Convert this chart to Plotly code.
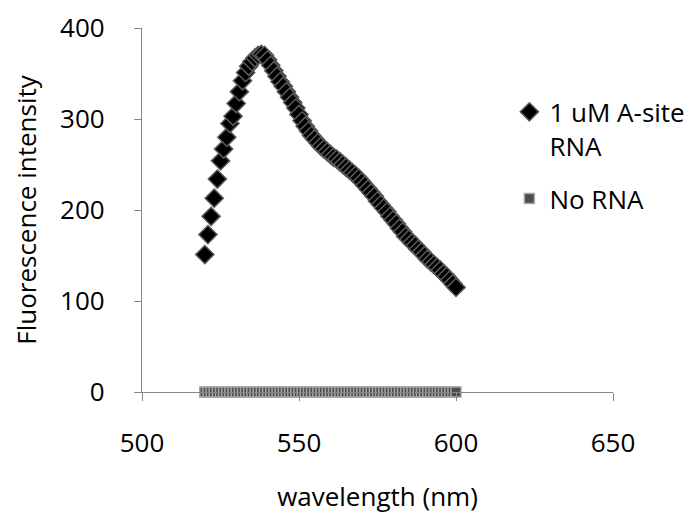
import plotly.graph_objects as go

wavelength = list(range(520, 601))
a_site_rna = [
    151, 173, 193, 213, 234, 254, 267, 280, 295, 303,   # 520-529
    317, 330, 342, 351, 358, 363, 367, 370, 371, 370,   # 530-539
    365, 359, 353, 347, 341, 336, 330, 324, 318, 312,   # 540-549
    305, 298, 292, 287, 282, 278, 274, 270, 267, 264,   # 550-559
    261, 258, 256, 253, 250, 247, 244, 241, 238, 235,   # 560-569
    231, 227, 223, 219, 215, 210, 206, 202, 198, 193,   # 570-579
    189, 185, 180, 176, 171, 168, 164, 161, 157, 154,   # 580-589
    150, 146, 143, 140, 137, 134, 130, 127, 123, 119,   # 590-599
    115,                                                # 600
]
no_rna = [0] * len(wavelength)

x_ticks = [500, 550, 600, 650]
y_ticks = [0, 100, 200, 300, 400]

FONT = "Open Sans"
AXIS_COLOR = "#868686"

fig = go.Figure()
fig.add_trace(go.Scatter(
    x=wavelength, y=a_site_rna, mode="markers",
    name="1 uM A-site<br>RNA", legendgroup="a", cliponaxis=False,
    marker=dict(symbol="diamond", size=14, color="#000000",
                line=dict(color="#5a5a5a", width=1.5)),
))
fig.add_trace(go.Scatter(
    x=wavelength, y=no_rna, mode="markers",
    name="No RNA", legendgroup="b", cliponaxis=False,
    marker=dict(symbol="square", size=10, color="#4d4d4d",
                line=dict(color="#a6a6a6", width=1.5)),
))

fig.update_layout(
    width=694, height=517,
    margin=dict(l=134, r=62, t=20, b=133, pad=0),
    paper_bgcolor="white", plot_bgcolor="white",
    font=dict(family=FONT, size=26, color="#000000"),
    showlegend=True,
    legend=dict(x=0.78, y=0.834, xanchor="left", yanchor="top",
                valign="top", traceorder="grouped", tracegroupgap=16,
                font=dict(family=FONT, size=26, color="#000000"),
                bgcolor="rgba(0,0,0,0)", borderwidth=0),
    xaxis=dict(
        range=[500, 650], tickvals=x_ticks, ticktext=[str(v) for v in x_ticks],
        showgrid=False, zeroline=False, showline=True, linecolor=AXIS_COLOR,
        linewidth=1.3, ticks="outside", ticklen=8, tickwidth=1.3, tickcolor=AXIS_COLOR,
        ticklabelstandoff=20, ticklabeloverflow="allow", automargin=False,
        title=dict(text="wavelength (nm)", standoff=28,
                   font=dict(family=FONT, size=26)),
    ),
    yaxis=dict(
        range=[0, 400], tickvals=y_ticks, ticktext=[str(v) for v in y_ticks],
        showgrid=False, zeroline=False, showline=True, linecolor=AXIS_COLOR,
        linewidth=1.3, ticks="outside", ticklen=7, tickwidth=1.3, tickcolor=AXIS_COLOR,
        ticklabelstandoff=24, ticklabeloverflow="allow", automargin=False,
        title=dict(text="Fluorescence intensity", standoff=26,
                   font=dict(family=FONT, size=26)),
    ),
)

fig.write_html("out.html")
